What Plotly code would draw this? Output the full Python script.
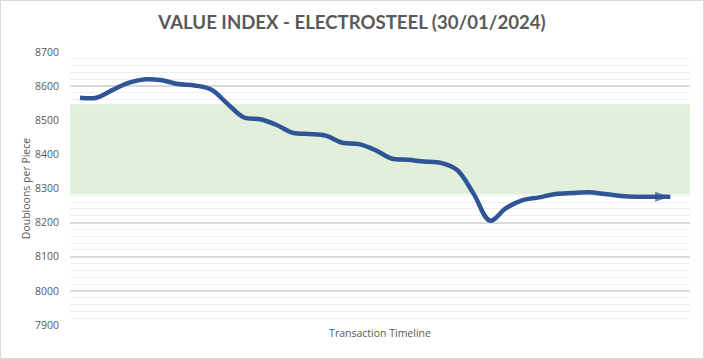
import plotly.graph_objects as go

# ---- data ----
timeline = list(range(37))
price = [8566, 8566, 8589, 8610, 8620, 8617, 8606, 8602, 8590, 8548,
         8508, 8503, 8486, 8463, 8460, 8455, 8434, 8430, 8413, 8388,
         8384, 8379, 8375, 8354, 8285, 8206, 8243, 8266, 8274, 8284,
         8287, 8289, 8284, 8278, 8276, 8276, 8276]
band_low = 8283
band_high = 8547
x_range = [-0.61, 37.2]
y_range = [7900, 8700]
y_ticks = [7900, 8000, 8100, 8200, 8300, 8400, 8500, 8600, 8700]

W, H = 704, 359
ML, MR, MT, MB = 70, 14, 52, 34
PW, PH = W - ML - MR, H - MT - MB

grey = "#595959"
font_family = "Open Sans"

fig = go.Figure()
# target band (drawn as a trace so it sits above the gridlines, below the line)
fig.add_trace(go.Scatter(
    x=[x_range[0], x_range[1], x_range[1], x_range[0], x_range[0]],
    y=[band_low, band_low, band_high, band_high, band_low],
    mode="lines", fill="toself", fillcolor="#E2EFDA",
    line=dict(width=0, color="#E2EFDA"), hoverinfo="skip", showlegend=False,
))
fig.add_trace(go.Scatter(
    x=timeline, y=price, mode="lines+markers",
    line=dict(color="#2F5597", width=4.5, shape="spline", smoothing=1.0),
    marker=dict(symbol="arrow", angleref="previous",
                size=[0] * (len(price) - 1) + [16],
                color="#2F5597", line=dict(width=0)),
    hoverinfo="skip", showlegend=False,
))

shapes = [
    dict(type="rect", xref="paper", yref="paper",
         x0=(0.5 - ML) / PW, x1=(W - 0.5 - ML) / PW,
         y0=-(MB - 0.5) / PH, y1=1 + (MT - 0.5) / PH,
         line=dict(color="#D9D9D9", width=1), fillcolor="rgba(0,0,0,0)", layer="below"),
]

fig.update_layout(
    width=W, height=H,
    margin=dict(l=ML, r=MR, t=MT, b=MB, pad=0),
    paper_bgcolor="white", plot_bgcolor="white",
    hovermode=False,
    shapes=shapes,
    title=dict(text="<b>VALUE INDEX - ELECTROSTEEL (30/01/2024)</b>",
               x=0.5, xanchor="center", y=1 - 22 / H, yanchor="middle",
               font=dict(family="Lato", size=18.6, color=grey)),
    font=dict(family=font_family, color=grey),
    xaxis=dict(range=x_range, showgrid=False, showticklabels=False,
               zeroline=False, showline=False, ticks="",
               title=dict(text="Transaction Timeline", standoff=4,
                          font=dict(size=10.5, color=grey))),
    yaxis=dict(range=y_range, tickvals=y_ticks, showgrid=True,
               gridcolor="#D9D9D9", gridwidth=2, zeroline=False, showline=False,
               ticks="", ticklabelstandoff=10,
               tickfont=dict(size=10.5, color=grey),
               minor=dict(dtick=20, showgrid=True, gridcolor="#EFEFEF", gridwidth=1),
               title=dict(text="Doubloons per Piece", standoff=2,
                          font=dict(size=10.5, color=grey))),
)

fig.write_html("out.html", config={"displayModeBar": False},
               post_script="document.body.style.margin='0';")
